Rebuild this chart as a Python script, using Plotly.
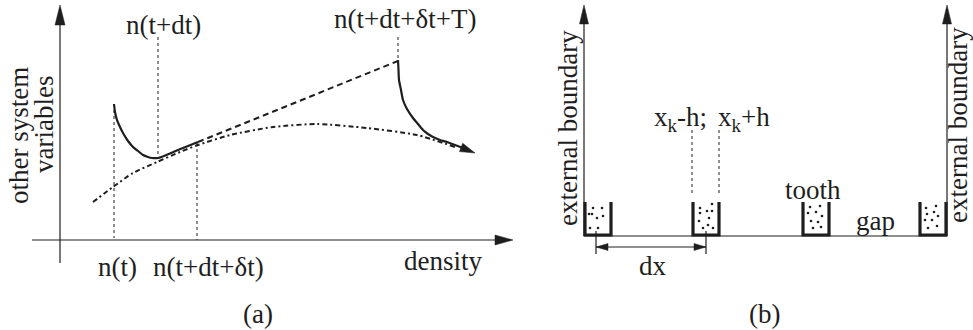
import plotly.graph_objects as go

W, H = 973, 330
INK = "#1e1e1e"
FONT = "Liberation Serif"
FS = 27

# ---------------- Panel (a) data (schematic, pixel-space coordinates) ----------------
axis_a_x = [32, 500]
axis_a_y = [240, 240]
axis_a_vx = [60, 60]
axis_a_vy = [263, 18]

# solid trajectory 1: relaxation then drift
traj1_x = [114, 115, 117, 120, 123, 128, 133, 138, 143, 148, 152, 158, 178, 198]
traj1_y = [104, 112, 120, 127, 133, 141, 147, 151, 155, 157, 158, 158, 150, 142]
# dashed extrapolation
dash_x = [198, 398]
dash_y = [142, 61]
# solid trajectory 2 with arrow
traj2_x = [398, 398.5, 399, 401, 403, 407, 413, 418, 423, 428, 433, 440, 447, 455, 463]
traj2_y = [60, 70, 80, 90, 100, 109, 118, 124, 130, 134, 137, 140, 142, 145, 148]
# dash-dot slow manifold
slow_x = [93, 113, 133, 157, 180, 198, 230, 273, 317, 367, 417, 455]
slow_y = [202, 187, 173, 162, 152, 145, 135, 127, 124, 128, 135, 147]
# dotted guides: (x, y_top, y_bottom)
guides_a = [(114, 110, 238), (158, 37, 157), (197, 143, 240), (398, 37, 60)]

# ---------------- Panel (b) data ----------------
bound_left_x = 584
bound_right_x = 947
bound_top = 22
base_y = 236
base_x = [584, 947]
teeth_left = [584, 692, 802, 919]
tooth_w = 27
tooth_top = 202
dots_t1_x = [593, 602, 589, 592, 597, 603, 590, 598]
dots_t1_y = [208, 208, 214, 214, 218, 216, 228, 228]
dots_t2_x = [700, 712, 700, 707, 712, 699, 709, 703, 708, 713]
dots_t2_y = [208, 204, 213, 211, 211, 221, 218, 228, 225, 228]
dots_t3_x = [810, 820, 808, 816, 822, 811, 818, 813, 821]
dots_t3_y = [207, 206, 213, 212, 216, 221, 222, 228, 227]
dots_t4_x = [926, 936, 927, 934, 938, 925, 932, 928, 937]
dots_t4_y = [208, 206, 214, 212, 216, 220, 220, 228, 226]
dx_y = 247
dx_x = [596, 706]
dx_tick_y = [231, 254]
guides_b = [(692, 130, 193), (719, 130, 193)]

fig = go.Figure()


def line(x, y, width=1.2, dash=None, color=INK):
    fig.add_trace(go.Scatter(x=x, y=y, mode="lines",
                             line=dict(color=color, width=width, dash=dash, shape="spline", smoothing=0.6),
                             hoverinfo="skip", showlegend=False))


def straight(x, y, width=1.2, dash=None, color=INK):
    fig.add_trace(go.Scatter(x=x, y=y, mode="lines",
                             line=dict(color=color, width=width, dash=dash),
                             hoverinfo="skip", showlegend=False))


def head(tip, frm, length=18, half=5):
    tx, ty = tip
    fx, fy = frm
    dx, dy = tx - fx, ty - fy
    n = (dx * dx + dy * dy) ** 0.5
    ux, uy = dx / n, dy / n
    bx, by = tx - ux * length, ty - uy * length
    px, py = -uy, ux
    xs = [tx, bx + px * half, bx - px * half, tx]
    ys = [ty, by + py * half, by - py * half, ty]
    fig.add_trace(go.Scatter(x=xs, y=ys, mode="lines", fill="toself",
                             fillcolor=INK, line=dict(color=INK, width=0.5),
                             hoverinfo="skip", showlegend=False))


# ---- panel (a)
straight(axis_a_x, axis_a_y, 1.2)
head((513, 240), (480, 240), 18, 5)
straight(axis_a_vx, axis_a_vy, 1.2)
head((60, 5), (60, 40), 20, 5)
for gx, gt, gb in guides_a:
    straight([gx, gx], [gt, gb], 1, "dot")
line(slow_x, slow_y, 2, "5px,3px,2px,3px")
straight(dash_x, dash_y, 2, "6px,4px")
line(traj1_x, traj1_y, 2.2)
line(traj2_x, traj2_y, 2.2)
head((475, 153), (455, 145), 15, 4.5)

# ---- panel (b)
straight(base_x, [base_y, base_y], 1.2)
straight([bound_left_x, bound_left_x], [base_y, bound_top], 1.2)
straight([bound_right_x, bound_right_x], [base_y, bound_top], 1.2)
head((bound_left_x, 5), (bound_left_x, 40), 19, 4.5)
head((bound_right_x, 5), (bound_right_x, 40), 19, 4.5)
for tl in teeth_left:
    straight([tl + 1, tl + 1, tl + tooth_w, tl + tooth_w],
             [tooth_top, base_y - 1, base_y - 1, tooth_top], 3.2)
for dxs, dys in [(dots_t1_x, dots_t1_y), (dots_t2_x, dots_t2_y),
                 (dots_t3_x, dots_t3_y), (dots_t4_x, dots_t4_y)]:
    fig.add_trace(go.Scatter(x=dxs, y=dys, mode="markers",
                             marker=dict(color=INK, size=2.6, line=dict(width=0)),
                             hoverinfo="skip", showlegend=False))
for gx, gt, gb in guides_b:
    straight([gx, gx], [gt, gb], 1, "dot")
straight(dx_x, [dx_y, dx_y], 1.2)
for tx in dx_x:
    straight([tx, tx], dx_tick_y, 1.2)
head((dx_x[0], dx_y), (dx_x[0] + 20, dx_y), 12, 3.5)
head((dx_x[1], dx_y), (dx_x[1] - 20, dx_y), 12, 3.5)

# ---- labels
labels = [
    ("n(t+dt)", 163, 25, 0),
    ("n(t+dt+δt+T)", 405, 19, 0),
    ("n(t)", 117, 267, 0),
    ("n(t+dt+δt)", 208, 267, 0),
    ("density", 443, 261, 0),
    ("(a)", 258, 314, 0),
    ("other system", 19, 136, -90),
    ("variables", 44, 125, -90),
    ("x<sub>k</sub>-h;", 680, 119, 0),
    ("x<sub>k</sub>+h", 744, 119, 0),
    ("tooth", 813, 190, 0),
    ("gap", 875, 221, 0),
    ("dx", 653, 266, 0),
    ("(b)", 764, 314, 0),
    ("external boundary", 568, 128, -90),
    ("external boundary", 958, 125, -90),
]
for txt, x, y, ang in labels:
    fig.add_annotation(x=x, y=y, xref="x", yref="y", text=txt, showarrow=False,
                       textangle=ang, xanchor="center", yanchor="middle",
                       font=dict(family=FONT, size=FS, color=INK))

fig.update_layout(
    width=W, height=H,
    margin=dict(l=0, r=0, t=0, b=0),
    paper_bgcolor="white", plot_bgcolor="white",
    xaxis=dict(range=[0, W], visible=False, fixedrange=True),
    yaxis=dict(range=[H, 0], visible=False, fixedrange=True),
    showlegend=False,
)
fig.write_html("out.html", config={"displayModeBar": False},
               post_script="document.body.style.margin='0';document.body.style.overflow='hidden';")
